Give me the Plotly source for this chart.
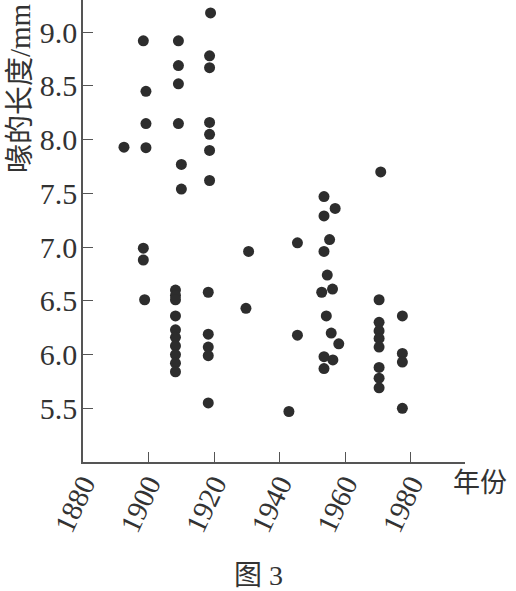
import plotly.graph_objects as go

# Data (year, beak length in mm)
years = [
    1892.5,
    1898.4, 1898.4, 1898.4, 1898.8,
    1899.2, 1899.2, 1899.2,
    1909.1, 1909.1, 1909.1, 1909.1, 1910.0, 1910.0,
    1908.2, 1908.2, 1908.2, 1908.2, 1908.2, 1908.2, 1908.2, 1908.2, 1908.2, 1908.2,
    1918.9, 1918.6, 1918.6, 1918.6, 1918.6, 1918.6, 1918.6,
    1918.2, 1918.2, 1918.2, 1918.2, 1918.2,
    1930.5, 1929.7, 1942.8, 1945.4, 1945.4,
    1953.5, 1953.5, 1953.5, 1953.5, 1953.5,
    1956.9, 1955.2, 1954.5, 1952.8, 1956.1, 1954.2, 1955.7, 1958.0, 1956.2,
    1970.8, 1970.3, 1970.3, 1970.3, 1970.3, 1970.3, 1970.3, 1970.3, 1970.3,
    1977.4, 1977.4, 1977.4, 1977.4,
]
lengths = [
    7.93,
    8.92, 6.99, 6.88, 6.51,
    8.45, 8.15, 7.925,
    8.92, 8.69, 8.52, 8.15, 7.77, 7.54,
    6.60, 6.55, 6.51, 6.36, 6.23, 6.16, 6.08, 6.00, 5.92, 5.84,
    9.18, 8.78, 8.67, 8.16, 8.05, 7.90, 7.62,
    6.58, 6.19, 6.07, 5.99, 5.55,
    6.96, 6.43, 5.47, 7.04, 6.18,
    7.47, 7.29, 6.96, 5.98, 5.87,
    7.36, 7.07, 6.74, 6.58, 6.61, 6.36, 6.20, 6.10, 5.95,
    7.70, 6.51, 6.30, 6.22, 6.15, 6.07, 5.88, 5.78, 5.69,
    6.36, 6.01, 5.93, 5.50,
]

x_ticks = [1880, 1900, 1920, 1940, 1960, 1980]
y_ticks = [5.5, 6.0, 6.5, 7.0, 7.5, 8.0, 8.5, 9.0]
y_tick_text = ["5.5", "6.0", "6.5", "7.0", "7.5", "8.0", "8.5", "9.0"]

x_title = "年份"
y_title = "喙的长度/mm"
caption = "图 3"

fig = go.Figure()
fig.add_trace(go.Scatter(
    x=years, y=lengths, mode="markers",
    marker=dict(size=11, color="#2d2d2d", line=dict(width=0)),
    showlegend=False, hoverinfo="x+y",
))

serif = "Liberation Serif, Noto Sans CJK SC, serif"
axis_color = "#555555"
text_color = "#333333"

fig.update_layout(
    width=516, height=591,
    margin=dict(l=83, r=51, t=0, b=129),
    paper_bgcolor="white", plot_bgcolor="white",
    font=dict(family=serif, color=text_color),
    xaxis=dict(
        range=[1880, 1996.5], tickmode="array", tickvals=x_ticks,
        ticktext=[str(v) for v in x_ticks],
        ticks="inside", ticklen=10, tickwidth=1.2, tickcolor=axis_color,
        showline=True, linecolor=axis_color, linewidth=1.5,
        showgrid=False, zeroline=False, tickangle=-65,
        tickfont=dict(family=serif, size=29, color=text_color),
        automargin=False, ticklabelstandoff=-8,
        fixedrange=True,
    ),
    yaxis=dict(
        range=[5.0, 9.30], tickmode="array", tickvals=y_ticks,
        ticktext=y_tick_text,
        ticks="inside", ticklen=10, tickwidth=1.2, tickcolor=axis_color,
        showline=True, linecolor=axis_color, linewidth=1.5,
        showgrid=False, zeroline=False,
        tickfont=dict(family=serif, size=30, color=text_color),
        automargin=False, ticklabelstandoff=-2,
        fixedrange=True,
    ),
    annotations=[
        dict(text=x_title, xref="paper", yref="paper", x=1.0, y=0.0,
             xanchor="left", yanchor="top", xshift=-14, yshift=3,
             showarrow=False, font=dict(family="Noto Sans CJK SC", size=27, color=text_color)),
        dict(text=y_title, xref="paper", yref="paper", x=0.0, y=1.0,
             xanchor="center", yanchor="top", xshift=-63, yshift=-1,
             textangle=-90, showarrow=False,
             font=dict(family=serif, size=29, color=text_color)),
        dict(text=caption, xref="paper", yref="paper", x=0.5, y=0.0,
             xanchor="center", yanchor="middle", xshift=-16, yshift=-113,
             showarrow=False, font=dict(family=serif, size=28, color=text_color)),
    ],
)

fig.write_html(
    "out.html",
    config={"displayModeBar": False},
    post_script="document.body.style.margin='0';document.body.style.overflow='hidden';",
)
